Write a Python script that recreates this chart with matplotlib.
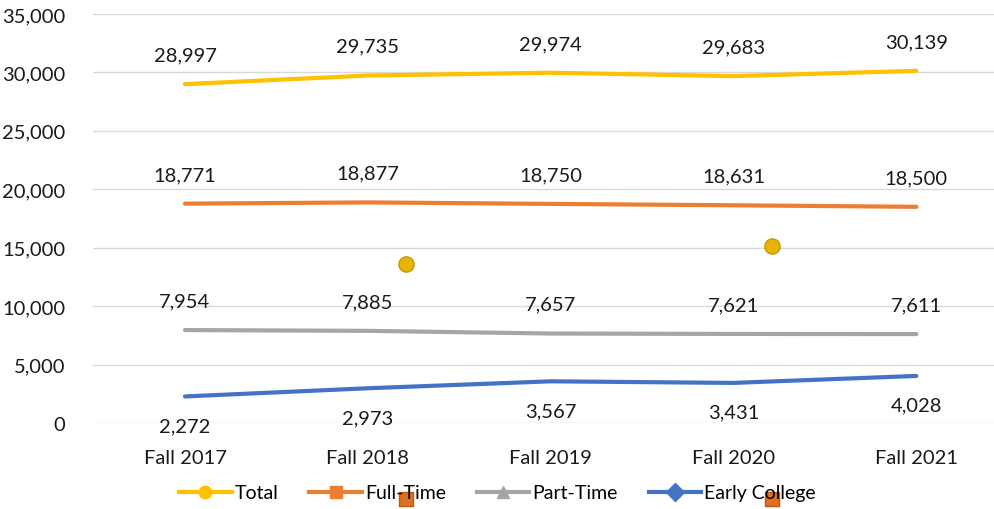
import matplotlib.pyplot as plt
from matplotlib.lines import Line2D
from matplotlib.ticker import FuncFormatter

plt.rcParams['font.family'] = ['Lato', 'DejaVu Sans']

terms = ["Fall 2017", "Fall 2018", "Fall 2019", "Fall 2020", "Fall 2021"]
total = [28997, 29735, 29974, 29683, 30139]
full_time = [18771, 18877, 18750, 18631, 18500]
part_time = [7954, 7885, 7657, 7621, 7611]
early_college = [2272, 2973, 3567, 3431, 4028]

# stray markers left over in the original chart
stray_ball_x = [1.21, 3.21]
stray_ball_y = [13600, 15150]
stray_sq_x = [1.21, 3.21]
stray_sq_y = [-6500, -6500]

series = [
    ("Total", total, "#FFC000", "o", 1),
    ("Full-Time", full_time, "#ED7D31", "s", 1),
    ("Part-Time", part_time, "#A5A5A5", "^", 1),
    ("Early College", early_college, "#4472C4", "D", -1),
]

fs = 14.5
fig = plt.figure(figsize=(9.95, 5.10), dpi=100)
ax = fig.add_axes([93 / 995, 1 - 424 / 510, 902 / 995, 409 / 510])
x = list(range(len(terms)))

handles = []
for name, vals, col, mk, side in series:
    ax.plot(x, vals, color=col, lw=3, solid_capstyle='round', zorder=3)
    for xi, v in zip(x, vals):
        ax.annotate(f"{v:,}", (xi, v), xytext=(0, 21 * side), textcoords='offset points',
                    ha='center', va='center', fontsize=fs, color='#1a1a1a')
    handles.append(Line2D([], [], color=col, lw=3, marker=mk, markersize=9,
                          markerfacecolor=col, markeredgecolor=col))

ax.scatter(stray_ball_x, stray_ball_y, s=120, color="#E8B400", edgecolor="#C89600", zorder=4)
ax.scatter(stray_sq_x, stray_sq_y, s=100, marker='s', color="#E07020", edgecolor="#B85A18",
           zorder=4, clip_on=False)

ax.set_xlim(-0.503, 4.43)
ax.set_ylim(0, 35000)
ax.set_yticks(range(0, 35001, 5000))
ax.yaxis.set_major_formatter(FuncFormatter(lambda v, p: f"{int(v):,}"))
ax.set_xticks(x)
ax.set_xticklabels(terms)
ax.tick_params(length=0, labelsize=fs, colors='#1a1a1a')
ax.tick_params(axis='y', pad=20)
ax.tick_params(axis='x', pad=19)
ax.grid(axis='y', color='#D9D9D9', lw=1)
ax.set_axisbelow(True)
for s in ax.spines.values():
    s.set_visible(False)

fig.legend(handles, [s[0] for s in series], loc='center', bbox_to_anchor=(0.5, 1 - 494 / 510),
           ncol=4, frameon=False, fontsize=14, handlelength=2.7, columnspacing=1.6,
           handletextpad=0.15)

fig.savefig("out.png", dpi=100)
